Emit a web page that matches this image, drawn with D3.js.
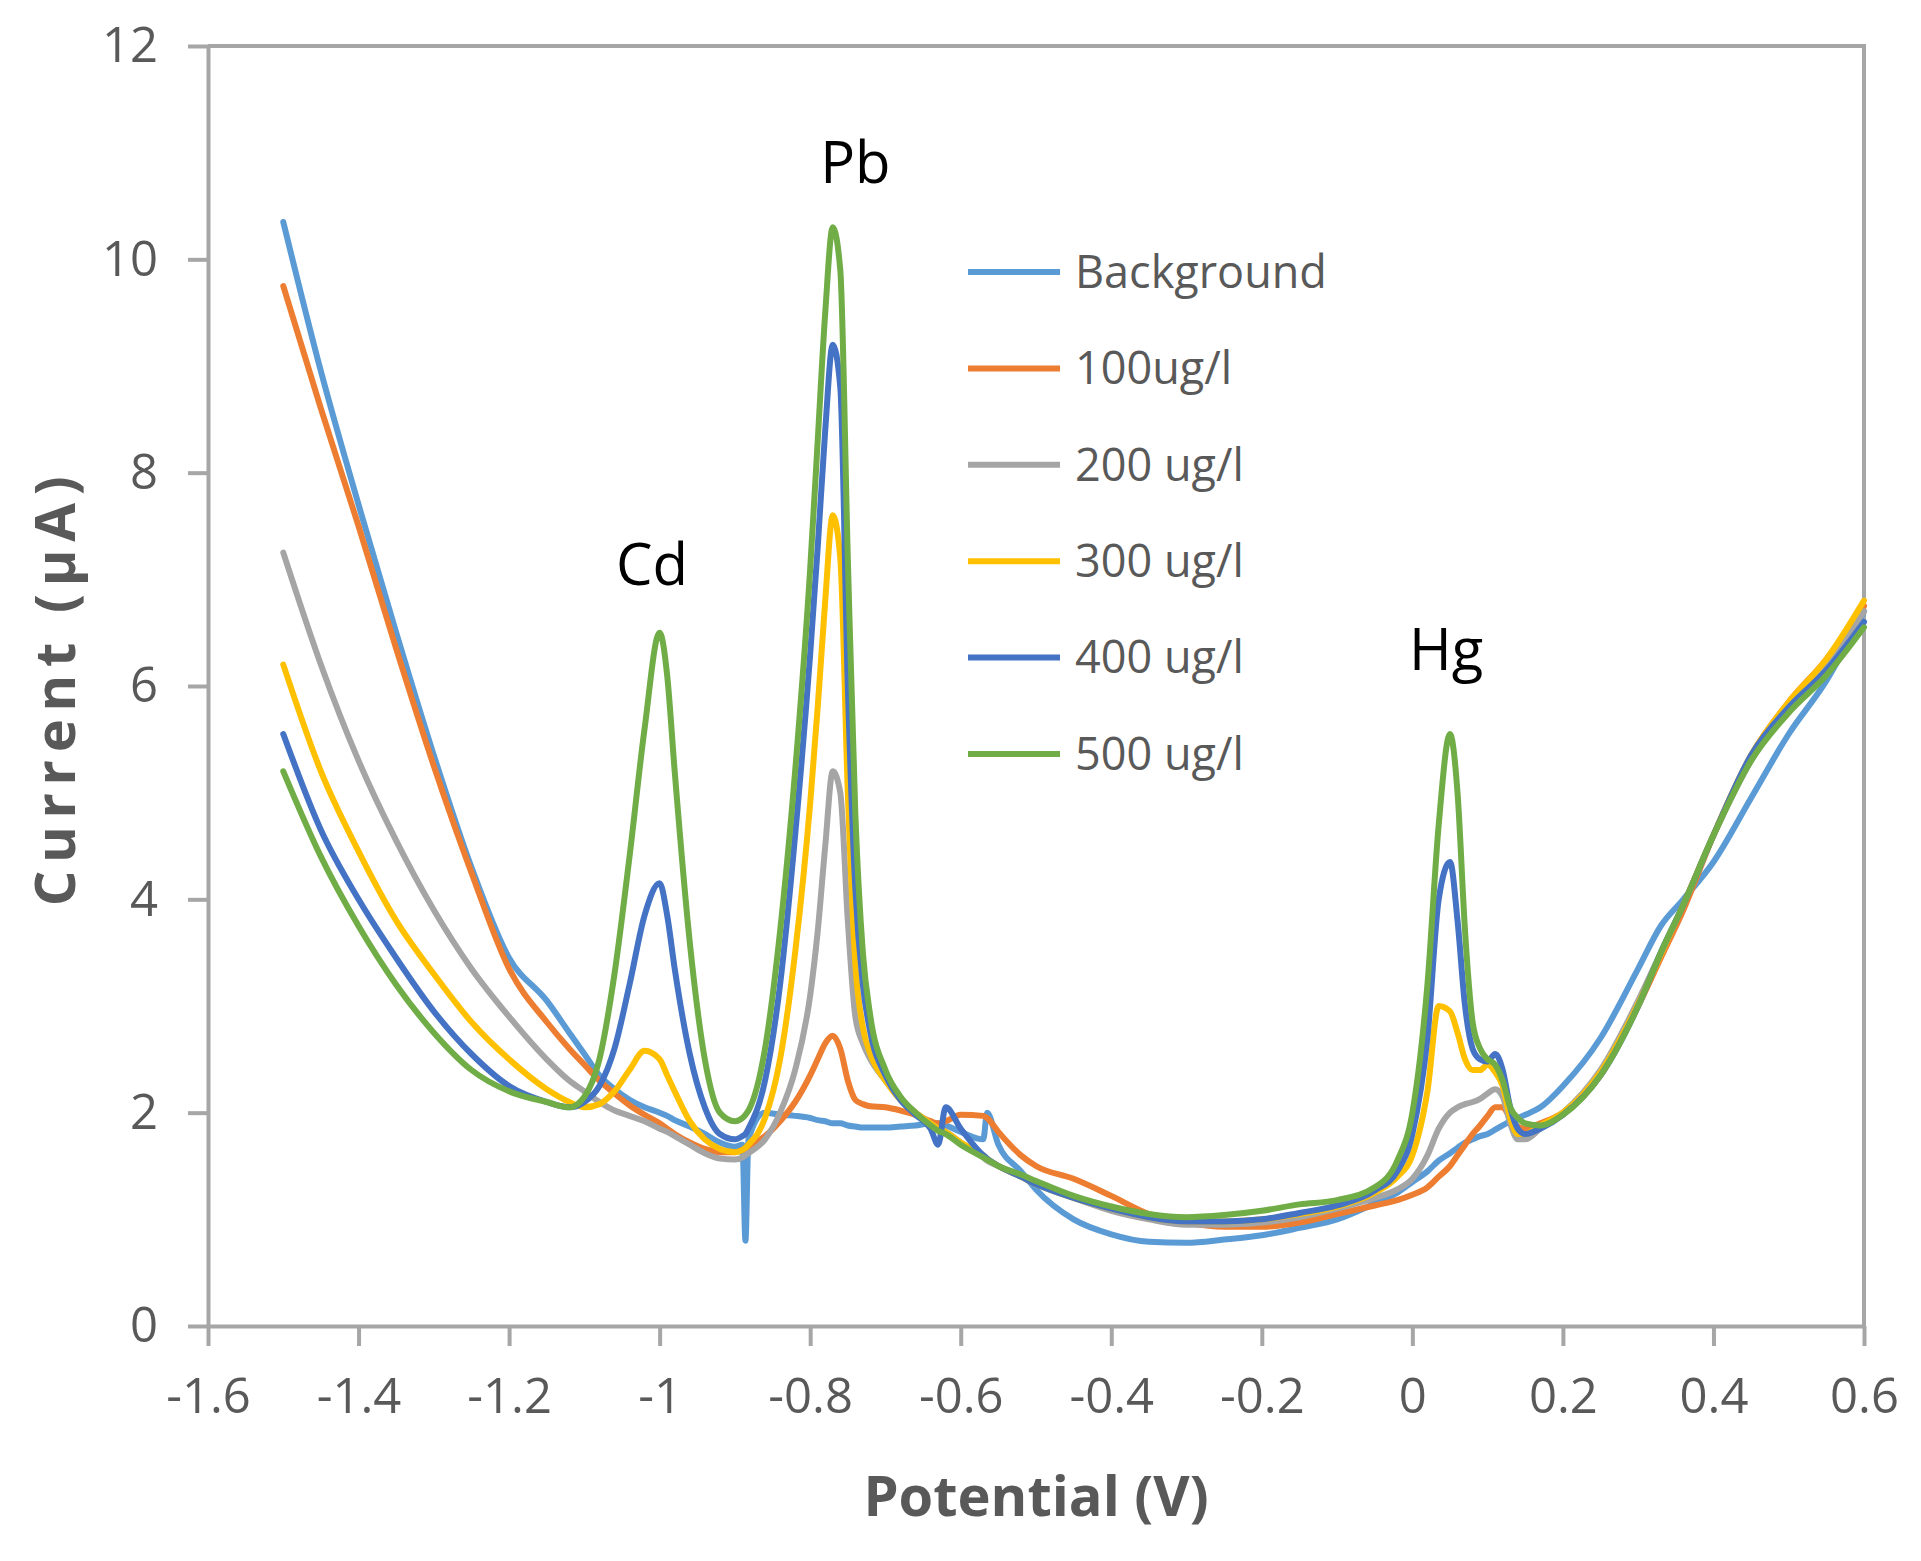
<!DOCTYPE html>
<html lang="en">
    <head>
	<meta charset="utf-8">
	<title>Stripping voltammetry - Cd, Pb, Hg</title>
	<script src="https://d3js.org/d3.v7.min.js" charset="utf-8"></script>
	<style>
	 body {
	     margin: 0;
	     background: #ffffff;
	 }
	 .axis text {
	     font-family: "Open Sans", sans-serif;
	     font-size: 49px;
	     fill: #595959;
	 }
	 .axis path, .axis line {
	     stroke: #a6a6a6;
	     stroke-width: 4;
	 }
	 .title {
	     font-family: "Open Sans", sans-serif;
	     font-weight: bold;
	     font-size: 56px;
	     fill: #595959;
	 }
	</style>
    </head>
    <body>
	<script type="text/javascript">

	 //Potential grid (V), shared by every scan
	 var potential = [-1.5, -1.45, -1.4, -1.35, -1.3, -1.25, -1.2, -1.15, -1.12, -1.1,
			  -1.08, -1.06, -1.04, -1.02, -1.0, -0.99, -0.98, -0.96, -0.94, -0.92,
			  -0.9, -0.89, -0.886, -0.882, -0.86, -0.84, -0.82, -0.8, -0.79, -0.78,
			  -0.77, -0.76, -0.75, -0.74, -0.73, -0.72, -0.7, -0.68, -0.66, -0.64,
			  -0.63, -0.62, -0.6, -0.57, -0.565, -0.55, -0.52, -0.5, -0.45, -0.4,
			  -0.35, -0.3, -0.25, -0.2, -0.15, -0.1, -0.05, -0.02, 0, 0.02,
			  0.035, 0.05, 0.06, 0.07, 0.08, 0.09, 0.1, 0.11, 0.12, 0.13,
			  0.14, 0.15, 0.17, 0.2, 0.25, 0.3, 0.33, 0.36, 0.4, 0.45,
			  0.5, 0.55, 0.6];

	 //Current (uA) for each scan
	 var background = [10.35, 8.95, 7.7, 6.5, 5.35, 4.3, 3.45, 3.05, 2.75, 2.55,
			   2.35, 2.22, 2.12, 2.05, 2.0, 1.97, 1.93, 1.87, 1.8, 1.72,
			   1.68, 1.7, 0.8, 1.75, 2.0, 1.98, 1.97, 1.95, 1.93, 1.92,
			   1.9, 1.9, 1.88, 1.87, 1.86, 1.86, 1.86, 1.87, 1.88, 1.9,
			   1.9, 1.88, 1.82, 1.75, 2.0, 1.7, 1.45, 1.28, 1.0, 0.86,
			   0.79, 0.78, 0.81, 0.85, 0.92, 1.0, 1.15, 1.25, 1.35, 1.45,
			   1.55, 1.62, 1.67, 1.72, 1.75, 1.78, 1.8, 1.84, 1.88, 1.92,
			   1.95, 1.98, 2.05, 2.25, 2.7, 3.35, 3.75, 4.0, 4.35, 4.95,
			   5.55, 6.05, 6.7];

	 var c100 = [9.75, 8.6, 7.5, 6.35, 5.25, 4.25, 3.35, 2.85, 2.6, 2.45,
		     2.3, 2.18, 2.07, 1.98, 1.9, 1.85, 1.8, 1.72, 1.66, 1.63,
		     1.63, 1.65, 1.66, 1.68, 1.78, 1.92, 2.1, 2.35, 2.5, 2.65,
		     2.72, 2.6, 2.3, 2.12, 2.08, 2.06, 2.05, 2.02, 1.98, 1.92,
		     1.9, 1.92, 1.98, 1.97, 1.95, 1.82, 1.6, 1.5, 1.38, 1.22,
		     1.05, 0.97, 0.93, 0.93, 0.97, 1.05, 1.13, 1.18, 1.23, 1.3,
		     1.4, 1.5, 1.6, 1.7, 1.8, 1.88, 1.97, 2.05, 2.05, 1.95,
		     1.87, 1.85, 1.9, 2.0, 2.35, 3.0, 3.45, 3.9, 4.6, 5.35,
		     5.85, 6.25, 6.75];

	 var c200 = [7.25, 6.2, 5.3, 4.55, 3.9, 3.35, 2.9, 2.5, 2.3, 2.2,
		     2.1, 2.02, 1.97, 1.92, 1.85, 1.82, 1.78, 1.7, 1.62, 1.57,
		     1.56, 1.58, 1.6, 1.62, 1.75, 2.0, 2.4, 3.1, 3.7, 4.5,
		     5.2, 5.0, 3.8, 2.9, 2.65, 2.5, 2.3, 2.12, 2.0, 1.9,
		     1.85, 1.82, 1.72, 1.58, 1.55, 1.5, 1.4, 1.33, 1.2, 1.08,
		     1.0, 0.95, 0.95, 0.97, 1.02, 1.1, 1.2, 1.28, 1.38, 1.6,
		     1.85, 2.0, 2.05, 2.08, 2.1, 2.13, 2.18, 2.22, 2.15, 1.9,
		     1.75, 1.75, 1.85, 2.0, 2.4, 3.05, 3.5, 3.95, 4.6, 5.3,
		     5.8, 6.2, 6.7];

	 var c300 = [6.2, 5.2, 4.45, 3.8, 3.3, 2.85, 2.5, 2.22, 2.1, 2.05,
		     2.08, 2.2, 2.4, 2.58, 2.5, 2.35, 2.2, 1.92, 1.75, 1.66,
		     1.63, 1.65, 1.67, 1.7, 1.95, 2.5, 3.5, 4.9, 5.8, 6.8,
		     7.6, 7.2, 5.0, 3.4, 2.8, 2.55, 2.3, 2.12, 2.0, 1.9,
		     1.85, 1.82, 1.72, 1.6, 1.57, 1.5, 1.4, 1.33, 1.2, 1.1,
		     1.02, 0.98, 0.98, 1.0, 1.05, 1.12, 1.25, 1.4, 1.6, 2.2,
		     3.0, 2.95, 2.75, 2.5, 2.4, 2.4, 2.45, 2.38, 2.25, 1.95,
		     1.8, 1.8, 1.88, 2.0, 2.38, 3.02, 3.48, 3.95, 4.6, 5.35,
		     5.85, 6.25, 6.8];

	 var c400 = [5.55, 4.65, 4.0, 3.45, 2.95, 2.55, 2.25, 2.1, 2.05, 2.1,
		     2.25, 2.6, 3.2, 3.85, 4.15, 3.85, 3.35, 2.55, 2.05, 1.8,
		     1.75, 1.78, 1.8, 1.85, 2.3, 3.2, 4.6, 6.3, 7.3, 8.4,
		     9.2, 8.8, 6.0, 4.1, 3.2, 2.75, 2.35, 2.12, 1.98, 1.85,
		     1.7, 2.05, 1.85, 1.6, 1.57, 1.5, 1.4, 1.33, 1.2, 1.1,
		     1.02, 0.98, 0.98, 1.0, 1.06, 1.13, 1.27, 1.45, 1.8, 2.7,
		     4.0, 4.35, 3.8, 3.0, 2.6, 2.5, 2.48, 2.55, 2.4, 2.05,
		     1.85, 1.8, 1.85, 1.98, 2.35, 3.0, 3.5, 3.95, 4.6, 5.35,
		     5.8, 6.15, 6.6];

	 var c500 = [5.2, 4.4, 3.75, 3.2, 2.75, 2.4, 2.2, 2.1, 2.05, 2.15,
		     2.5, 3.3, 4.4, 5.6, 6.5, 6.1, 5.2, 3.6, 2.5, 2.0,
		     1.92, 1.95, 1.98, 2.02, 2.6, 3.7, 5.2, 7.1, 8.3, 9.5,
		     10.3, 9.9, 7.2, 4.8, 3.5, 2.9, 2.4, 2.15, 2.0, 1.88,
		     1.83, 1.8, 1.7, 1.58, 1.56, 1.5, 1.42, 1.36, 1.22, 1.12,
		     1.05, 1.02, 1.04, 1.08, 1.14, 1.18, 1.3, 1.55, 2.0, 3.2,
		     4.7, 5.55, 5.0, 3.7, 2.85, 2.6, 2.5, 2.45, 2.3, 2.05,
		     1.95, 1.9, 1.88, 1.98, 2.35, 3.0, 3.5, 3.95, 4.6, 5.3,
		     5.75, 6.1, 6.55];

	 var seriesNames = ["Background", "100ug/l", "200 ug/l", "300 ug/l", "400 ug/l", "500 ug/l"];
	 var seriesValues = [background, c100, c200, c300, c400, c500];
	 var seriesColors = ["#5b9bd5", "#ed7d31", "#a5a5a5", "#ffc000", "#4472c4", "#70ad47"];

	 //Tick values and labels
	 var xTicks = [-1.6, -1.4, -1.2, -1.0, -0.8, -0.6, -0.4, -0.2, 0, 0.2, 0.4, 0.6];
	 var xTickLabels = ["-1.6", "-1.4", "-1.2", "-1", "-0.8", "-0.6", "-0.4", "-0.2", "0", "0.2", "0.4", "0.6"];
	 var yTicks = [0, 2, 4, 6, 8, 10, 12];

	 //Peak labels (placed in data units)
	 var peakNames = ["Cd", "Pb", "Hg"];
	 var peakPotential = [-1.01, -0.74, 0.045];
	 var peakCurrent = [6.95, 10.72, 6.15];

	 //Display specifications
	 var margin = {top:46, right:57, bottom:235, left:208};
	 var width = 1921 - margin.left - margin.right;
	 var height = 1561 - margin.top - margin.bottom;

	 var xScale = d3.scaleLinear()
			.domain([-1.6, 0.6])
			.range([0, width]);

	 var yScale = d3.scaleLinear()
			.domain([0, 12])
			.range([height, 0]);

	 var svg = d3.select("body")
		     .append("svg")
		     .attr("width", 1921)
		     .attr("height", 1561);

	 var container = svg.append("g")
			    .attr("transform", "translate(" + margin.left + "," + margin.top + ")");

	 //Plot border (top and right)
	 container.append("path")
		  .attr("d", "M" + xScale(-1.6) + "," + yScale(12) + "H" + xScale(0.6) + "V" + yScale(0))
		  .attr("fill", "none")
		  .attr("stroke", "#a6a6a6")
		  .attr("stroke-width", 4);

	 //X axis
	 container.append("g")
		  .attr("class", "axis")
		  .attr("transform", "translate(0," + height + ")")
		  .call(d3.axisBottom(xScale)
			  .tickValues(xTicks)
			  .tickFormat(function (d, i) { return xTickLabels[i]; })
			  .tickSize(20)
			  .tickSizeOuter(0)
			  .tickPadding(32));

	 //Y axis
	 container.append("g")
		  .attr("class", "axis")
		  .call(d3.axisLeft(yScale)
			  .tickValues(yTicks)
			  .tickFormat(d3.format("d"))
			  .tickSize(20)
			  .tickSizeOuter(0)
			  .tickPadding(30));

	 //Scans
	 var line = d3.line()
		      .x(function (d) { return xScale(d[0]); })
		      .y(function (d) { return yScale(d[1]); })
		      .curve(d3.curveMonotoneX);

	 container.selectAll(".scan")
		  .data(seriesValues)
		  .enter()
		  .append("path")
		  .attr("class", "scan")
		  .attr("d", function (vals) {
		      return line(vals.map(function (v, i) { return [potential[i], v]; }));
		  })
		  .attr("fill", "none")
		  .attr("stroke", function (d, i) { return seriesColors[i]; })
		  .attr("stroke-width", 6)
		  .attr("stroke-linejoin", "round")
		  .attr("stroke-linecap", "round");

	 //Peak labels
	 container.selectAll(".peak")
		  .data(peakNames)
		  .enter()
		  .append("text")
		  .attr("class", "peak")
		  .attr("x", function (d, i) { return xScale(peakPotential[i]); })
		  .attr("y", function (d, i) { return yScale(peakCurrent[i]); })
		  .attr("text-anchor", "middle")
		  .attr("font-family", "'Open Sans', sans-serif")
		  .attr("font-size", "58px")
		  .attr("fill", "#000000")
		  .text(function (d) { return d; });

	 //Legend
	 var legX = 968;
	 var legY = 272;
	 var legStep = 96.4;

	 var legend = svg.selectAll(".legend")
			 .data(seriesNames)
			 .enter()
			 .append("g")
			 .attr("class", "legend")
			 .attr("transform", function (d, i) {
			     return "translate(" + legX + "," + (legY + i * legStep) + ")";
			 });

	 legend.append("line")
	       .attr("x1", 0)
	       .attr("x2", 92)
	       .attr("y1", 0)
	       .attr("y2", 0)
	       .attr("stroke", function (d, i) { return seriesColors[i]; })
	       .attr("stroke-width", 6);

	 legend.append("text")
	       .attr("x", 107)
	       .attr("y", 0)
	       .attr("dy", "0.35em")
	       .attr("font-family", "'Open Sans', sans-serif")
	       .attr("font-size", "45px")
	       .attr("fill", "#595959")
	       .text(function (d) { return d; });

	 //Axis titles
	 svg.append("text")
	    .attr("class", "title")
	    .attr("x", margin.left + xScale(-0.5))
	    .attr("y", 1516)
	    .attr("text-anchor", "middle")
	    .text("Potential (V)");

	 svg.append("text")
	    .attr("class", "title")
	    .attr("transform", "translate(75," + (margin.top + yScale(5.95)) + ") rotate(-90)")
	    .attr("text-anchor", "middle")
	    .attr("textLength", 430)
	    .attr("lengthAdjust", "spacing")
	    .text("Current (\u00b5A)");

	</script>
    </body>
</html>
